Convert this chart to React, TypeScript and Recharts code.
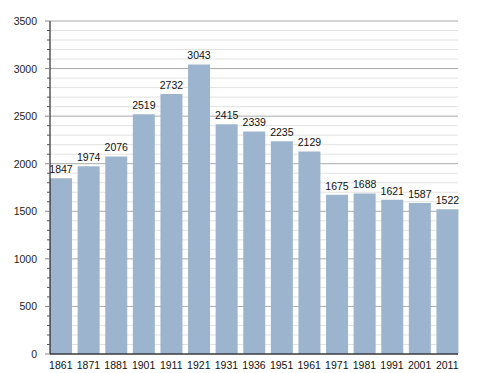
import { BarChart, Bar, XAxis, YAxis, CartesianGrid, LabelList } from 'recharts';

const years = ['1861', '1871', '1881', '1901', '1911', '1921', '1931', '1936', '1951', '1961', '1971', '1981', '1991', '2001', '2011'];
const population = [1847, 1974, 2076, 2519, 2732, 3043, 2415, 2339, 2235, 2129, 1675, 1688, 1621, 1587, 1522];
const yTicks = Array.from({ length: 36 }, (_, i) => i * 100);

const data = years.map((year, i) => ({ year, value: population[i] }));

const font = '"Liberation Sans", Arial, sans-serif';

// minor ticks every 100, labels only on the 500s
function YTick(props: any) {
  const { x, y, payload } = props;
  const major = payload.value % 500 === 0;
  return (
    <g>
      <line x1={x - (major ? 5 : 3)} x2={x} y1={y} y2={y} stroke={major ? '#888' : '#555'} strokeWidth={1} />
      {major && (
        <text x={x - 13} y={y} dy={4} textAnchor="end" fontSize={10.5} fontFamily={font} fill="#222">
          {payload.value}
        </text>
      )}
    </g>
  );
}

function GridLine(props: any) {
  const { x1, x2, y1, y2, index } = props;
  const major = (index ?? 0) % 5 === 0;
  return <line x1={x1} x2={x2} y1={y1} y2={y2} stroke={major ? '#aaaaaa' : '#e2e2e2'} strokeWidth={1} />;
}

export default function App() {
  return (
    <div style={{ position: 'absolute', left: 0, top: 0, background: '#fff' }}>
      <BarChart
        width={488}
        height={373}
        data={data}
        margin={{ top: 21, right: 30, left: 0, bottom: 0 }}
        barCategoryGap="11%"
      >
        <CartesianGrid vertical={false} horizontal={GridLine} />
        <XAxis
          dataKey="year"
          height={19}
          padding={{ left: -3, right: -3 }}
          tickLine={false}
          axisLine={{ stroke: '#000' }}
          tick={{ fontSize: 10.5, fill: '#111', fontFamily: font }}
          tickMargin={2}
          interval={0}
        />
        <YAxis
          width={50}
          domain={[0, 3500]}
          ticks={yTicks}
          interval={0}
          tickLine={false}
          tickSize={0}
          tickMargin={0}
          axisLine={{ stroke: '#000' }}
          tick={<YTick />}
        />
        <Bar dataKey="value" fill="#9cb4ce" isAnimationActive={false}>
          <LabelList dataKey="value" position="top" offset={5} fontSize={10.5} fill="#111" fontFamily={font} />
        </Bar>
      </BarChart>
    </div>
  );
}
